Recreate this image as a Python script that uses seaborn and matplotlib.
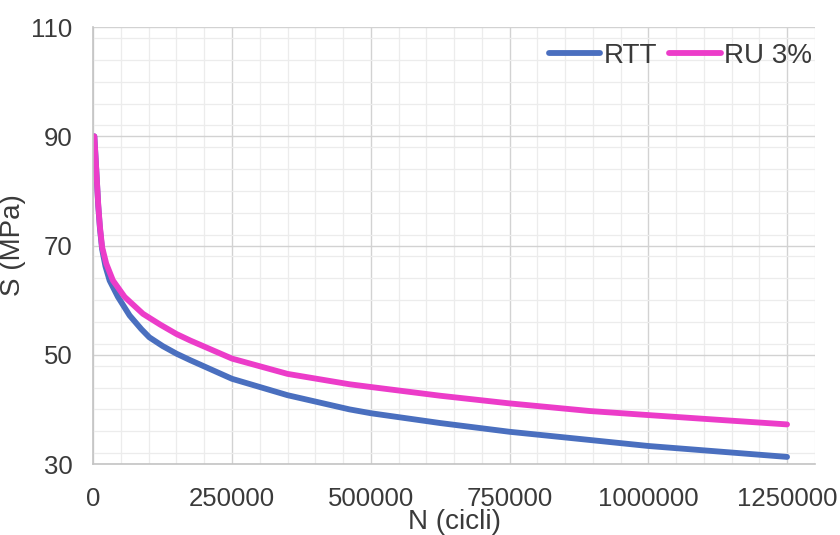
import matplotlib
matplotlib.use("Agg")
import matplotlib.pyplot as plt
from matplotlib.ticker import MultipleLocator
import pandas as pd
import seaborn as sns

# S-N curves: cycles to failure vs. stress amplitude
n_rtt = [2000, 4000, 6500, 9000, 12000, 16000, 22000, 29500, 44500, 65500,
         86600, 101000, 125000, 150000, 175000, 250000, 350000, 461700,
         500000, 625000, 750000, 894600, 1000000, 1125000, 1250000]
s_rtt = [90.0, 86.5, 82.0, 77.3, 73.2, 69.3, 66.2, 63.6, 60.6, 57.2,
         54.7, 53.2, 51.6, 50.2, 49.0, 45.6, 42.6, 40.0,
         39.3, 37.5, 35.9, 34.4, 33.3, 32.3, 31.3]

n_ru = [2000, 4000, 6500, 9000, 12000, 16000, 23400, 35500, 56500, 89600,
        121000, 150000, 175000, 250000, 350000, 461700, 500000, 625000,
        750000, 894600, 1000000, 1125000, 1250000]
s_ru = [90.0, 86.5, 82.0, 77.5, 73.5, 69.7, 66.7, 63.6, 60.6, 57.5,
        55.5, 53.8, 52.6, 49.3, 46.5, 44.6, 44.1, 42.5,
        41.1, 39.7, 38.96, 38.1, 37.25]

series_names = ["RTT", "RU 3%"]
x_ticks = [0, 250000, 500000, 750000, 1000000, 1250000]
y_ticks = [30, 50, 70, 90, 110]

df = pd.concat([
    pd.DataFrame({"N": n_rtt, "S": s_rtt, "serie": series_names[0]}),
    pd.DataFrame({"N": n_ru, "S": s_ru, "serie": series_names[1]}),
])

sns.set_style("white")
plt.rcParams["font.family"] = ["Liberation Sans", "DejaVu Sans"]

fig = plt.figure(figsize=(8.4, 5.35), dpi=100)
ax = fig.add_axes([0.111, 0.1327, 0.859, 0.8167])

palette = {"RTT": "#4a6fbf", "RU 3%": "#ec3cc9"}
sns.lineplot(data=df, x="N", y="S", hue="serie", palette=palette,
             estimator=None, sort=False, linewidth=4.2, ax=ax,
             solid_capstyle="round", solid_joinstyle="round")

ax.set_xlim(0, 1300000)
ax.set_ylim(30, 110)
ax.set_xticks(x_ticks)
ax.set_xticklabels([str(v) for v in x_ticks])
ax.set_yticks(y_ticks)
ax.xaxis.set_minor_locator(MultipleLocator(50000))
ax.yaxis.set_minor_locator(MultipleLocator(4))

ax.grid(which="major", color="#d2d2d2", linewidth=1.0)
ax.grid(which="minor", color="#ececec", linewidth=0.9)
ax.set_axisbelow(True)

for side in ["top", "right"]:
    ax.spines[side].set_visible(False)
for side in ["left", "bottom"]:
    ax.spines[side].set_color("#c4c4c4")
    ax.spines[side].set_linewidth(1.2)

text_color = "#3a3a3a"
ax.tick_params(axis="both", which="both", length=0, labelsize=18.5,
               labelcolor=text_color)
ax.tick_params(axis="y", pad=15)
ax.tick_params(axis="x", pad=16.5)

ax.set_xlabel("N (cicli)", fontsize=20, color=text_color, labelpad=-1.5)
ax.set_ylabel("S (MPa)", fontsize=20, color=text_color)
ax.yaxis.set_label_coords(-0.093, 0.5)

leg = ax.legend(loc="upper right", ncol=2, frameon=False, fontsize=20,
                handlelength=1.85, handletextpad=0.12, columnspacing=0.45,
                bbox_to_anchor=(1.0, 0.97), borderaxespad=0.0, borderpad=0.1)
for t in leg.get_texts():
    t.set_color(text_color)
for line in leg.get_lines():
    line.set_linewidth(4.2)

fig.savefig("out.png", dpi=100, facecolor="white")
